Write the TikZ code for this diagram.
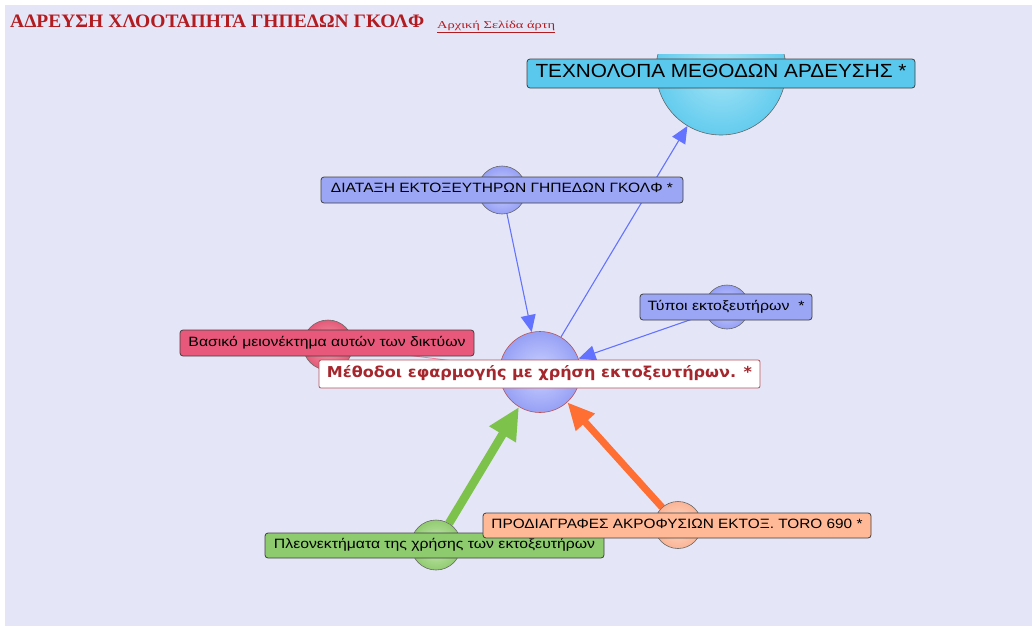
\documentclass[tikz,border=0pt]{standalone}
\usepackage{fontspec}
\usepackage{graphicx}
\setmainfont{Liberation Sans}
\newfontfamily\titlefont{Liberation Serif}
\newfontfamily\centerfont{DejaVu Sans}
\usetikzlibrary{arrows.meta}

\definecolor{pagebg}{RGB}{228,230,248}
\definecolor{titlered}{RGB}{178,28,32}
\definecolor{centerred}{RGB}{165,38,44}
\definecolor{skyfill}{RGB}{90,200,236}
\definecolor{skyin}{RGB}{165,228,246}
\definecolor{skyout}{RGB}{100,204,238}
\definecolor{perifill}{RGB}{155,166,245}
\definecolor{periin}{RGB}{205,210,255}
\definecolor{periout}{RGB}{150,160,245}
\definecolor{pinkfill}{RGB}{232,88,122}
\definecolor{pinkin}{RGB}{246,160,178}
\definecolor{pinkout}{RGB}{228,90,120}
\definecolor{greenfill}{RGB}{141,203,110}
\definecolor{greenin}{RGB}{205,236,186}
\definecolor{greenout}{RGB}{145,203,112}
\definecolor{salmonfill}{RGB}{255,185,150}
\definecolor{salmonin}{RGB}{255,222,204}
\definecolor{salmonout}{RGB}{250,180,150}
\definecolor{linkblue}{RGB}{100,115,255}
\definecolor{linkgreen}{RGB}{125,195,75}
\definecolor{linkorange}{RGB}{255,110,50}
\definecolor{linkpink}{RGB}{236,130,160}

% drawing layers: page, connectors, then bubbles and labels
\pgfdeclarelayer{page}
\pgfdeclarelayer{links}
\pgfsetlayers{page,links,main}

% text squeezed horizontally to a given width
\newcommand{\fitlabel}[3]{\resizebox{#1}{\height}{\fontsize{#2}{#2}\selectfont\strut #3}}

\tikzset{
  bubble/.style={circle, inner sep=0pt, draw=black!60, line width=0.6pt,
    shading=radial, minimum size=#1},
  tag/.style={rectangle, rounded corners=3pt, draw=black!75, line width=0.8pt,
    inner sep=0pt, align=center},
  bluelink/.style={draw=linkblue, line width=1.1pt,
    -{Triangle[length=17pt,width=15pt]}},
  pinklink/.style={draw=linkpink, line width=0.9pt},
  greenlink/.style={draw=linkgreen, line width=8.5pt,
    -{Triangle[length=32pt,width=29pt]}},
  orangelink/.style={draw=linkorange, line width=7pt,
    -{Triangle[length=27pt,width=24pt]}},
}

\begin{document}
\begin{tikzpicture}[x=1pt,y=-1pt]
\useasboundingbox (0,0) rectangle (1032,626);
\begin{pgfonlayer}{page}
\fill[white] (0,0) rectangle (1032,626);
\fill[pagebg] (5,5) rectangle (1032,626);
\end{pgfonlayer}

% heading and home link
\node[anchor=base west, inner sep=0pt, text=titlered] (title) at (10,28)
  {\titlefont\bfseries\resizebox{414pt}{\height}{\fontsize{19}{19}\selectfont ΑΔΡΕΥΣΗ ΧΛΟΟΤΑΠΗΤΑ ΓΗΠΕΔΩΝ ΓΚΟΛΦ}};
\node[anchor=base west, inner sep=0pt, text=titlered] (home) at (437,28.5)
  {\titlefont\resizebox{118pt}{\height}{\fontsize{10.5}{10.5}\selectfont\underline{Αρχική Σελίδα άρτη}}};

% bubbles
\begin{scope}
  \clip (600,55) rectangle (860,220);
  \node[bubble=130pt, inner color=skyin, outer color=skyout] (techc) at (721,70) {};
\end{scope}
\node[bubble=48pt, inner color=periin, outer color=periout] (layoutc) at (502,190) {};
\node[bubble=44pt, inner color=periin, outer color=periout] (typesc) at (727,307) {};
\node[bubble=50pt, inner color=pinkin, outer color=pinkout] (drawc) at (328,345) {};
\node[bubble=81pt, inner color=periin, outer color=periout, draw=centerred!80] (mainc) at (540,372) {};
\node[bubble=50pt, inner color=greenin, outer color=greenout] (prosc) at (436,545) {};
\node[bubble=47pt, inner color=salmonin, outer color=salmonout] (specc) at (678,525) {};

% connectors, kept beneath the bubbles
\begin{pgfonlayer}{links}
\draw[bluelink] (mainc) -- (techc);
\draw[bluelink] (layoutc) -- (mainc);
\draw[bluelink] (typesc) -- (mainc);
\draw[pinklink] (drawc) -- (mainc);
\draw[greenlink] (prosc) -- (mainc);
\draw[orangelink] (specc) -- (mainc);
\end{pgfonlayer}

% labels
\node[tag, fill=skyfill, minimum width=388pt, minimum height=29pt] (techl) at (721,73.5)
  {\fitlabel{371pt}{19}{ΤΕΧΝΟΛΟΠΑ ΜΕΘΟΔΩΝ ΑΡΔΕΥΣΗΣ *}};
\node[tag, fill=perifill, minimum width=362pt, minimum height=26pt] (layoutl) at (502,190)
  {\fitlabel{342pt}{13.5}{ΔΙΑΤΑΞΗ ΕΚΤΟΞΕΥΤΗΡΩΝ ΓΗΠΕΔΩΝ ΓΚΟΛΦ *}};
\node[tag, fill=perifill, minimum width=172pt, minimum height=26pt] (typesl) at (726,307)
  {\fitlabel{157pt}{13.5}{Τύποι εκτοξευτήρων~ *}};
\node[tag, fill=pinkfill, minimum width=294pt, minimum height=26pt] (drawl) at (327,343)
  {\fitlabel{277pt}{13.5}{Βασικό μειονέκτημα αυτών των δικτύων}};
\node[tag, fill=white, draw=centerred!80, rounded corners=2pt, minimum width=441pt, minimum height=28pt] (mainl) at (539.5,374)
  {\textcolor{centerred}{\centerfont\bfseries\fitlabel{425pt}{15}{Μέθοδοι εφαρμογής με χρήση εκτοξευτήρων. *}}};
\node[tag, fill=greenfill, minimum width=339pt, minimum height=25pt] (prosl) at (434.5,545.5)
  {\fitlabel{321pt}{13.5}{Πλεονεκτήματα της χρήσης των εκτοξευτήρων}};
\node[tag, fill=salmonfill, minimum width=388pt, minimum height=25pt] (specl) at (677,525.5)
  {\fitlabel{371pt}{13.5}{ΠΡΟΔΙΑΓΡΑΦΕΣ ΑΚΡΟΦΥΣΙΩΝ ΕΚΤΟΞ. TORO 690 *}};
\end{tikzpicture}
\end{document}
